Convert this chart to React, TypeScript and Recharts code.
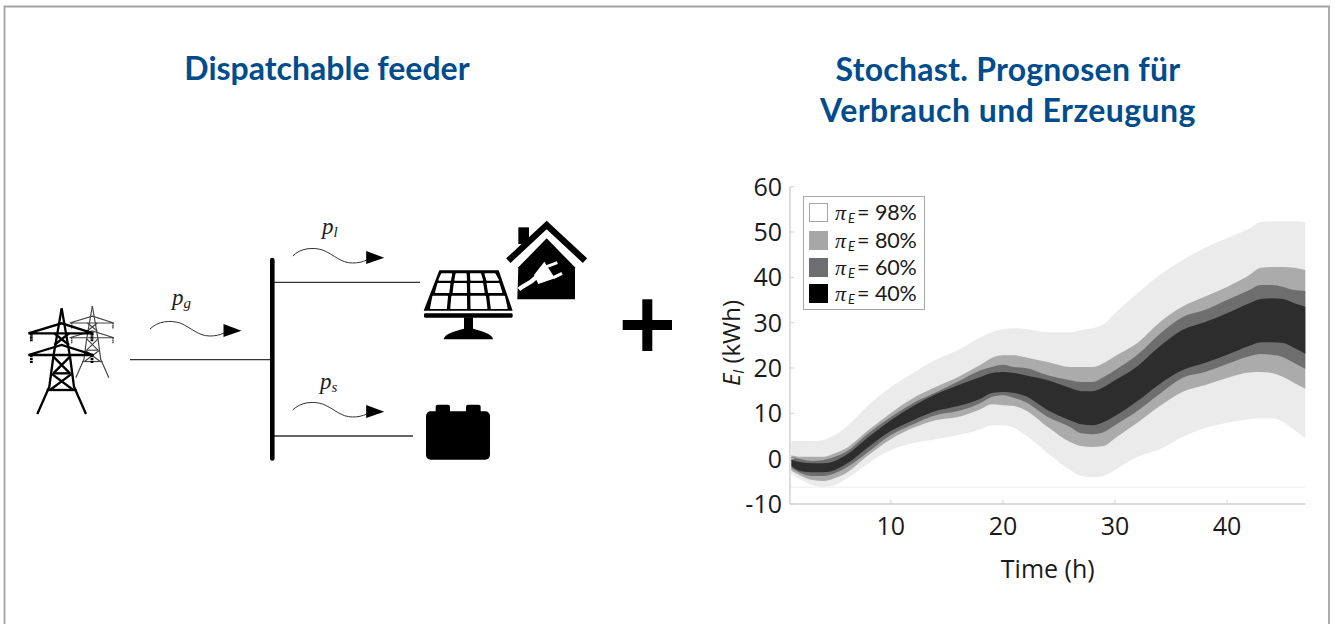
import React from 'react';
import { ComposedChart, Area, XAxis, YAxis, ReferenceLine, Legend } from 'recharts';

const hours = [1,2,3,4,5,6,8,10,12,14,16,18,19,20,21,22,24,26,27,28,29,30,32,34,36,38,40,42,43,44,45,46,47];
const upper98 = [3.9,3.9,3.9,4.1,5.2,7.0,11.8,15.8,18.9,21.8,24.0,26.8,27.9,28.6,28.8,28.6,27.9,27.9,28.4,28.8,29.7,32.1,36.5,40.5,43.8,46.5,48.7,50.8,52.2,52.4,52.4,52.4,52.2];
const upper80 = [0.8,0.4,0.4,0.4,1.2,2.3,6.3,10.1,13.4,15.8,18.0,20.7,22.2,22.8,22.8,22.4,21.3,20.2,20.2,20.2,21.1,22.6,25.5,30.1,33.5,35.7,37.9,40.5,42.1,42.3,42.3,42.1,41.6];
const upper60 = [0.4,-0.1,-0.5,-0.3,0.4,1.5,5.6,9.2,12.3,14.6,17.0,19.5,20.2,20.7,20.2,20.0,18.4,17.3,16.9,16.9,18.0,19.5,22.9,27.5,31.2,32.8,35.0,37.2,38.3,38.3,37.9,37.2,37.0];
const upper40 = [-0.1,-0.8,-1,-1,-0.5,0.8,4.8,8.5,11.6,14.2,16.2,18.0,18.9,19.1,18.9,18.4,17.3,15.6,14.9,14.9,15.8,17.3,20.4,24.8,28.4,30.1,32.1,34.3,35.2,35.4,35.2,34.3,33.5];
const lower40 = [-1.4,-2.8,-3,-3,-2.5,-1.2,2.6,6.1,8.5,10.5,11.6,13.2,14.5,14.7,14.5,13.8,10.7,8.5,7.6,7.4,8.1,9.4,12.7,16.5,19.5,21.1,22.9,24.9,25.7,25.7,25.5,24.4,23.1];
const lower60 = [-1.9,-3.2,-3.8,-3.8,-3.2,-2,1.5,5.2,7.6,9.6,10.5,12.3,13.6,14,13.4,12.5,9.2,7,5.6,5.4,5.9,7.4,10.5,14.3,17.8,19.1,20.9,22.6,23.1,22.9,22.4,21.1,19.8];
const lower80 = [-2.5,-3.8,-4.7,-4.9,-4.3,-3.2,0.8,4.3,6.8,8.5,9.2,10.9,12,11.8,11.6,10.7,7,3.7,2.8,2.6,2.8,4.5,7.9,11.6,14.7,16.2,17.8,19.0,19.1,18.9,18,16.7,15.4];
const lower98 = [-3.2,-4.7,-5.8,-6.3,-5.8,-4.5,-1,1.9,3.4,4.3,5.2,6.5,7.4,7.4,6.8,5.2,1.2,-2.5,-3.8,-4.1,-3.8,-2.5,0.4,2.1,4.8,6.7,7.9,8.7,8.9,8.9,8.1,6.3,4.5];

const xTicks = [10,20,30,40];
const yTicks = [-10,0,10,20,30,40,50,60];
const legendLabels = ['98%','80%','60%','40%'];
const legendColors = ['#ffffff','#a7a7aa','#6d6e71','#000000'];
const titleLeft = 'Dispatchable feeder';
const titleRightLines = ['Stochast. Prognosen für','Verbrauch und Erzeugung'];

const rows = hours.map((h,i) => ({
  h,
  b98: [lower98[i], upper98[i]],
  b80: [lower80[i], upper80[i]],
  b60: [lower60[i], upper60[i]],
  b40: [lower40[i], upper40[i]],
}));

const SANS = '"Open Sans", sans-serif';
const AXIS = '#cfcfcf';
const BLUE = '#004c8c';
const INK = '#1a1a1a';

function ChartLegend() {
  return (
    <div style={{width:122,height:114,border:'1px solid #a6a6a6',background:'#fff',boxSizing:'border-box',position:'relative',fontFamily:'Lato, sans-serif',color:INK}}>
      {legendLabels.map((t,i) => {
        const top = [6,34,61,87][i];
        const abs = {position:'absolute' as const,whiteSpace:'nowrap' as const,lineHeight:'20px'};
        return (
          <div key={t} style={{...abs,left:31,top:top-1,display:'flex',alignItems:'baseline',height:20}}>
            <span style={{position:'absolute',left:-26.5,top:1,width:19,height:19,boxSizing:'border-box',background:legendColors[i],border:i===0?'1px solid #a6a6a6':'none'}} />
            <span style={{fontSize:22,fontStyle:'italic',fontFamily:'"Liberation Serif", serif',width:13}}>π</span>
            <span style={{fontSize:13,fontStyle:'italic',position:'relative',top:3,width:9}}>E</span>
            <span style={{fontSize:21.5,width:18}}>=</span>
            <span style={{fontSize:21.5,letterSpacing:-0.2}}>{t}</span>
          </div>
        );
      })}
    </div>
  );
}

function Wave({dx,dy}:{dx:number;dy:number}) {
  return (
    <g transform={`translate(${dx},${dy})`}>
      <path d="M150,329 C158,321 170,320 180,323 C192,328 198,336 210,336 C215,336 220,335 224,333" fill="none" stroke="#333" strokeWidth={1} />
      <polygon points="223.5,324 241.5,330.7 223.5,337" fill="#000" />
    </g>
  );
}

function Tower({ax,k,y0,sw,color}:{ax:number;k:number;y0:number;sw:number;color:string}) {
  const P = (x:number,y:number) => `${ax+x*k},${y0+y*k}`;
  const lines = [
    'M0,0 L-25,145 L-37,235 L-73,317', 'M0,0 L25,145 L37,235 L73,317',
    'M-100,75 L0,45 L95,75 L-100,75', 'M-100,140 L0,110 L95,140 L-100,140',
    'M-22,75 L22,110 M22,75 L-22,110', 'M-25,145 L25,195 M25,145 L-25,195',
    'M-26,195 L26,195', 'M-32,195 L35,245 M32,195 L-35,245', 'M-45,245 L45,245',
  ];
  const tr = (s:string) => s.replace(/(-?\d+),(-?\d+)/g,(_,x,y) => P(+x,+y));
  return (
    <g stroke={color} strokeWidth={sw} fill="none">
      {lines.map((l,i) => <path key={i} d={tr(l)} />)}
      {[[-91,75],[91,75],[-91,140],[91,140]].map(([x,y],i) => (
        <path key={'i'+i} d={tr(`M${x},${y} L${x},${y+24}`)} strokeWidth={sw*1.2} strokeDasharray={`${7*k} ${2*k}`} />
      ))}
    </g>
  );
}

function Schematic() {
  return (
    <svg width={1335} height={624} style={{position:'absolute',left:0,top:0}}>
      <g transform="translate(10,210) scale(0.33333)">
        <Tower ax={247} k={0.68} y0={288} sw={3.5} color="#444" />
        <Tower ax={155} k={1} y0={295} sw={7} color="#000" />
      </g>
      <line x1={130} y1={359.7} x2={271} y2={359.7} stroke="#333" strokeWidth={1.3} />
      <line x1={273} y1={282.3} x2={420} y2={282.3} stroke="#333" strokeWidth={1.3} />
      <line x1={273} y1={436} x2={413} y2={436} stroke="#333" strokeWidth={1.3} />
      <line x1={272.3} y1={260} x2={272.3} y2={458.5} stroke="#000" strokeWidth={4.6} strokeLinecap="round" />
      <Wave dx={0} dy={0} />
      <Wave dx={142.7} dy={-73} />
      <Wave dx={142.7} dy={81} />
      <g fontFamily='"Liberation Serif", serif' fontStyle="italic" fill="#222">
        <text x={172} y={305} fontSize={23}>p<tspan fontSize={15} dy={3}>g</tspan></text>
        <text x={322} y={234} fontSize={23}>p<tspan fontSize={15} dy={3}>l</tspan></text>
        <text x={320} y={389} fontSize={23}>p<tspan fontSize={15} dy={3}>s</tspan></text>
      </g>
      <g transform="translate(260,210) scale(0.33333)">
        <polygon points="538,181 716,181 758,302 491,302" fill="#000" />
        {[[192,210,538,712,530,722],[221,247,527,724,520,732],[259,295,512,740,505,748]].map(([t,b,tl,tr,bl,br],r) =>
          [0,1,2,3].map(c => {
            const g = 7;
            const xt = (n:number) => tl+(tr-tl)*n/4;
            const xb = (n:number) => bl+(br-bl)*n/4;
            return <polygon key={r+'-'+c} points={`${xt(c)+g},${t} ${xt(c+1)-g},${t} ${xb(c+1)-g},${b} ${xb(c)+g},${b}`} fill="#fff" stroke="#fff" strokeWidth={4} strokeLinejoin="round" />;
          })
        )}
        <rect x={492} y={310} width={266} height={13} fill="#000" rx={4} />
        <rect x={612} y={322} width={27} height={40} fill="#000" />
        <path d="M551,388 Q552,370 612,356 L639,356 Q698,370 699,388 Z" fill="#000" />
        <rect x={775} y={52} width={32} height={50} fill="#000" />
        <polyline points="745,152 860,45 975,152" fill="none" stroke="#000" strokeWidth={19} />
        <polygon points="775,172 860,85 945,172 945,268 772,268" fill="#000" />
        <path d="M777,238 C795,222 805,226 830,200" stroke="#fff" strokeWidth={13} fill="none" />
        <polygon points="822,195 853,155 885,205 835,222" fill="#fff" />
        <path d="M860,170 L892,158 M880,203 L906,190" stroke="#fff" strokeWidth={9} fill="none" />
        <rect x={527} y={584} width={43} height={30} rx={6} fill="#000" />
        <rect x={618} y={584} width={44} height={30} rx={6} fill="#000" />
        <rect x={498} y={604} width={192} height={145} rx={14} fill="#000" />
      </g>
      <rect x={622.7} y={320} width={49.3} height={10} fill="#000" />
      <rect x={642.3} y={299.3} width={10} height={51.7} fill="#000" />
      <g fontFamily={'Lato, sans-serif'} fontWeight={700} fontSize={32} fill={BLUE} textAnchor="middle">
        <text x={327} y={79.5}>{titleLeft}</text>
        <text x={1008} y={81} letterSpacing={0.25}>{titleRightLines[0]}</text>
        <text x={1008} y={122} letterSpacing={0.45}>{titleRightLines[1]}</text>
      </g>
      <path d="M4.5,624 L4.5,6.5 L1329,6.5 L1329,624" fill="none" stroke="#a3a3a3" strokeWidth={1.8} />
    </svg>
  );
}

export default function App() {
  return (
    <div style={{position:'absolute',left:0,top:0,width:1335,height:624,background:'#fff',overflow:'hidden'}}>
      <Schematic />
      <div style={{position:'absolute',left:0,top:0}}>
        <ComposedChart width={1335} height={624} data={rows} margin={{left:730,right:29.5,top:186.7,bottom:90}}>
          <XAxis dataKey="h" type="number" domain={[1,47]} ticks={xTicks} height={30} interval={0}
            stroke={AXIS} tickSize={-4} tickMargin={17} allowDataOverflow
            tick={{fill:INK,fontSize:25,fontFamily:SANS}} tickLine={{stroke:AXIS}} axisLine={{stroke:AXIS,strokeWidth:1.4}}
            label={{value:'Time (h)',position:'insideBottom',fill:INK,fontSize:25,fontFamily:SANS,offset:-44}} />
          <XAxis xAxisId="top" orientation="top" dataKey="h" type="number" domain={[1,47]} ticks={xTicks} height={0}
            tick={false} tickSize={-4} tickLine={{stroke:AXIS}} axisLine={{stroke:AXIS,strokeWidth:1.4}} />
          <YAxis type="number" domain={[-10,60]} ticks={yTicks} width={60} interval={0} allowDataOverflow
            stroke={AXIS} tickSize={-4} tickMargin={12}
            tick={{fill:INK,fontSize:25,fontFamily:SANS}} tickLine={{stroke:AXIS}} axisLine={{stroke:AXIS,strokeWidth:1.4}}
            label={{content:() => (
              <text transform="translate(740,343) rotate(-90)" textAnchor="middle" fill={INK} fontFamily={SANS} fontSize={24}>
                <tspan fontStyle="italic">E</tspan><tspan fontStyle="italic" fontSize={15} dy={4}>l</tspan><tspan dy={-4}> (kWh)</tspan>
              </text>
            )}} />
          <YAxis yAxisId="right" orientation="right" type="number" domain={[-10,60]} width={0} tick={false} tickLine={false}
            axisLine={{stroke:AXIS,strokeWidth:1.4}} />
          <Legend layout="vertical" align="center" verticalAlign="middle" content={<ChartLegend />}
            wrapperStyle={{position:'absolute',left:803,top:195.5,width:122,height:114,right:'auto',bottom:'auto',margin:0}} />
          <ReferenceLine y={-6.3} stroke="#f3f3f3" strokeWidth={1.5} />
          <ReferenceLine segment={[{x:1,y:-6.3},{x:1,y:3.9}]} stroke="#fff" strokeWidth={2.5} />
          <Area dataKey="b98" name="98%" type="monotone" fill="#ebebeb" fillOpacity={1} stroke="none" isAnimationActive={false} dot={false} activeDot={false} />
          <Area dataKey="b80" name="80%" type="monotone" fill="#ababab" fillOpacity={1} stroke="none" isAnimationActive={false} dot={false} activeDot={false} />
          <Area dataKey="b60" name="60%" type="monotone" fill="#6e6e6e" fillOpacity={1} stroke="none" isAnimationActive={false} dot={false} activeDot={false} />
          <Area dataKey="b40" name="40%" type="monotone" fill="#2d2d2d" fillOpacity={1} stroke="none" isAnimationActive={false} dot={false} activeDot={false} />
        </ComposedChart>
      </div>
    </div>
  );
}
